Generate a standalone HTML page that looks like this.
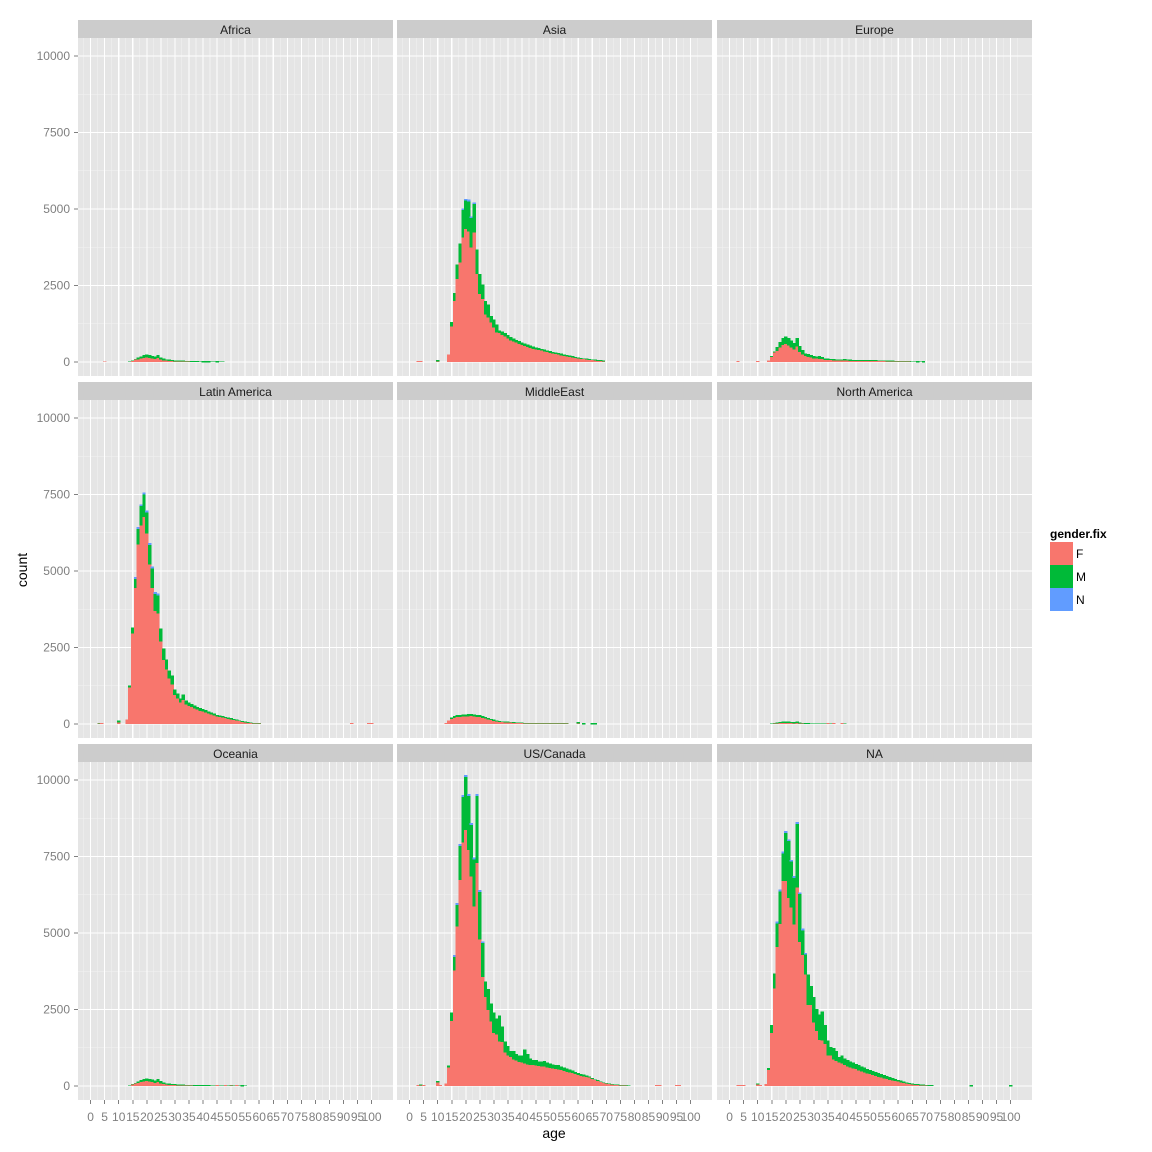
<!DOCTYPE html>
<html><head><meta charset="utf-8"><style>
html,body{margin:0;padding:0;background:#fff;}
svg{display:block;font-family:"Liberation Sans",Arial,sans-serif;}
</style></head><body>
<svg id="s" width="1152" height="1152" xmlns="http://www.w3.org/2000/svg"></svg>
<script>
const S=document.getElementById('s');let h='';
const cols=[78,397,717], W=315, PX=2.81;
const titles=[["Africa","Asia","Europe"],["Latin America","MiddleEast","North America"],["Oceania","US/Canada","NA"]];
function xa(c,a){return cols[c]+12.6+a*PX;}
function ya(r,v){return 362+r*362 - v*0.0306;}
const usT=[670,2410,4220,5920,7850,9450,10100,9480,8530,7410,9480,6340,4670,3410,3170,2700,2410,2200,2300,1950,1450,1300,1150,1150,1050,1000,1000,1200,1050,900,850,850,800,800,820,760,740,700,690,680,640,600,580,540,500,460,430,400,380,340,310,260,220,190,150,120,100,80,60,50,45,35,30,25,20];
const usF=[610,2140,3780,5220,6740,7960,8370,7720,6860,5870,7290,4800,3580,2920,2500,2120,1750,1700,1470,1450,1100,1000,950,880,850,800,780,750,720,700,700,680,660,650,640,620,600,580,560,550,540,500,470,450,430,400,370,340,320,300,280,240,200,170,140,110,90,70,55,45,40,30,25,20,15];
const D={
"0,1":{s:14,F:[250,1174,2000,2730,3260,4080,4360,4270,3750,4240,2880,2230,2070,1560,1470,1300,1140,980,950,900,850,780,720,680,640,600,560,530,500,470,440,420,400,380,360,340,310,290,270,250,230,210,190,170,150,140,120,110,100,90,80,70,60,50,40,30],
 T:[250,1300,2250,3180,3880,4960,5270,5250,4700,5160,3670,2870,2540,1990,1880,1500,1390,1230,1030,1000,950,880,820,770,720,680,640,600,570,540,510,480,460,430,410,380,360,330,310,290,270,250,230,210,190,170,150,130,120,110,100,90,80,70,60,50],ex:[[3,30,0],[4,30,0],[10,30,30]]},
"1,0":{s:13,F:[150,1200,2970,4460,5870,6500,6770,6230,5220,4460,3710,3620,2700,2100,1790,1500,1300,960,850,710,800,650,600,560,520,480,440,420,380,350,320,290,260,240,220,200,180,160,140,120,100,80,60,50,40,30,25,20],
 T:[150,1260,3150,4740,6370,7120,7500,6910,5850,5090,4250,4200,3120,2460,2100,1750,1580,1130,990,830,960,770,700,650,600,560,520,490,450,410,380,340,300,280,260,230,210,190,160,140,120,100,80,60,50,40,30,25],ex:[[3,20,20],[4,30,0],[10,60,60],[93,40,0],[99,40,0],[100,40,0]]},
"2,1":{s:14,F:usF,T:usT,ex:[[3,30,0],[4,30,20],[5,30,0],[10,120,50],[11,30,0],[13,80,0],[88,30,0],[89,30,0],[95,30,0],[96,30,0]]},
"2,2":{s:14,F:[530,1740,3190,4560,5310,6710,6710,6160,5840,5290,6500,4720,4290,3650,2660,2660,2080,1800,1520,1490,1380,1000,1000,880,830,770,750,700,650,620,580,560,520,480,450,420,400,370,340,310,290,260,240,210,190,170,150,130,110,90,70,60,50,40,30,25,20,15,10],
 T:[590,1990,3680,5310,6360,7600,8270,8000,7330,6800,8570,6270,5090,4290,3650,3260,2910,2510,2340,2430,1990,1490,1270,1250,1140,940,995,900,850,800,760,720,680,640,600,560,520,490,450,420,390,360,330,290,260,230,200,180,150,120,100,80,70,60,50,45,40,35,30],ex:[[3,30,0],[4,30,0],[5,30,0],[10,60,30],[11,30,0],[13,60,0],[86,0,40],[100,0,40]]}
};
function scaled(sc,len,ff,st){const F=[],T=[];for(let i=0;i<len;i++){let t=usT[i]/10100*sc;let f=usF[i]/10100*sc*ff;if(i<3){f=usF[i]/usT[i]*t}T.push(t);F.push(Math.min(f,t));}return {s:st||14,F,T,ex:[]};}
D["0,0"]=scaled(240,34,0.78);D["0,0"].ex=[[5,20,0],[40,0,30],[41,0,30],[42,0,30],[45,0,30]];
D["0,2"]=scaled(840,58,0.86);D["0,2"].ex=[[3,30,0],[10,30,0],[62,20,20],[67,0,30],[69,0,30]];
D["1,1"]=(function(){const T=[40,120,220,260,300,300,310,310,320,330,310,300,290,260,230,200,170,140,120,100,90,80,80,70,60,50,50,50,40,40,40,40,35,30,30,30,30,30,30,30,30,30,30,30];const F=T.map((t,i)=>i<2?t:t*0.82);return {s:13,F,T,ex:[[60,30,30],[62,0,30],[65,0,30],[66,0,30]]};})();
D["1,2"]=scaled(80,30,0.7);D["1,2"].ex=[[35,30,0],[37,30,0],[40,30,0]];
D["2,0"]=scaled(250,42,0.8);D["2,0"].ex=[[45,30,0],[48,30,0],[50,20,20],[52,30,0],[54,0,30]];
const cF="#F8766D",cM="#00BA38",cN="#619CFF";
for(let r=0;r<3;r++)for(let c=0;c<3;c++){
 const x0=cols[c],sy=20+r*362,py=sy+18,ph=338;
 h+=`<rect x="${x0}" y="${sy}" width="${W}" height="18" fill="#cccccc"/>`;
 h+=`<text x="${x0+W/2}" y="${sy+14}" font-size="12" text-anchor="middle" fill="#1a1a1a">${titles[r][c]}</text>`;
 h+=`<rect x="${x0}" y="${py}" width="${W}" height="${ph}" fill="#e5e5e5"/>`;
 for(let v=1250;v<=10000;v+=2500){const y=ya(r,v);h+=`<line x1="${x0}" x2="${x0+W}" y1="${y}" y2="${y}" stroke="#f2f2f2" stroke-width="0.6"/>`;}
 for(let a=-2.5;a<=107;a+=5){const x=xa(c,a);h+=`<line x1="${x}" x2="${x}" y1="${py}" y2="${py+ph}" stroke="#f2f2f2" stroke-width="0.6"/>`;}
 for(let v=0;v<=10000;v+=2500){const y=ya(r,v);h+=`<line x1="${x0}" x2="${x0+W}" y1="${y}" y2="${y}" stroke="#fff" stroke-width="1.1"/>`;}
 for(let a=0;a<=100;a+=5){const x=xa(c,a);h+=`<line x1="${x}" x2="${x}" y1="${py}" y2="${py+ph}" stroke="#fff" stroke-width="1.1"/>`;}
 const d=D[r+","+c];const y0=ya(r,0);
 const BW=PX+0.6;
 const bar=(a,f,m,n)=>{const x=xa(c,a-0.5)-0.3;let y=y0;
   if(f>0){h+=`<rect x="${x.toFixed(2)}" y="${(y-f*0.0306).toFixed(2)}" width="${BW}" height="${(f*0.0306).toFixed(2)}" fill="${cF}"/>`;y-=f*0.0306;}
   if(m>0){h+=`<rect x="${x.toFixed(2)}" y="${(y-m*0.0306).toFixed(2)}" width="${BW}" height="${(m*0.0306+0.3).toFixed(2)}" fill="${cM}"/>`;y-=m*0.0306;}
   if(n>0){h+=`<rect x="${x.toFixed(2)}" y="${(y-n*0.0306).toFixed(2)}" width="${BW}" height="${(n*0.0306).toFixed(2)}" fill="${cN}"/>`;}};
 const L=Math.min(d.F.length,d.T.length);
 for(let i=0;i<L;i++){const f=d.F[i],t=Math.max(d.T[i],f);bar(d.s+i,f,t-f,t>4000?60:0);}
 d.ex.forEach(e=>bar(e[0],e[1],e[2],0));
 if(c===0){for(let v=0;v<=10000;v+=2500){const y=ya(r,v);h+=`<line x1="74" x2="78" y1="${y}" y2="${y}" stroke="#7f7f7f" stroke-width="1"/><text x="70" y="${y+4}" font-size="12" text-anchor="end" fill="#7f7f7f">${v}</text>`;}}
 if(r===2){for(let a=0;a<=100;a+=5){const x=xa(c,a);h+=`<line x1="${x}" x2="${x}" y1="1100" y2="1104" stroke="#7f7f7f" stroke-width="1"/><text x="${x}" y="1121" font-size="12" text-anchor="middle" fill="#7f7f7f">${a}</text>`;}}
}
h+=`<text x="554" y="1138" font-size="14" text-anchor="middle" fill="#000">age</text>`;
h+=`<text x="27" y="570" font-size="14" text-anchor="middle" fill="#000" transform="rotate(-90 27 570)">count</text>`;
h+=`<text x="1050" y="538" font-size="12" font-weight="bold" fill="#000">gender.fix</text>`;
[[cF,"F"],[cM,"M"],[cN,"N"]].forEach((k,i)=>{h+=`<rect x="1050" y="${542+i*23}" width="23" height="23" fill="${k[0]}"/><text x="1076" y="${558+i*23}" font-size="12" fill="#000">${k[1]}</text>`;});
S.setAttribute('shape-rendering','crispEdges');
S.innerHTML=h;
</script>
</body></html>
